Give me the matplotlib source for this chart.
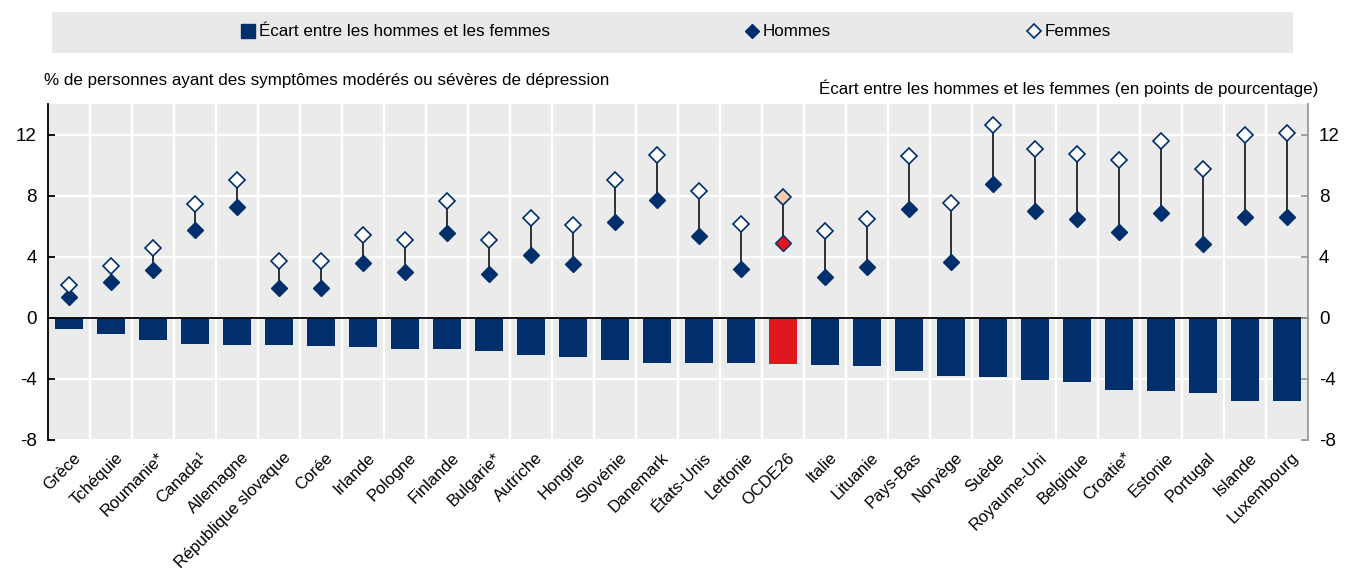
import matplotlib
matplotlib.use("Agg")
import matplotlib.pyplot as plt
from matplotlib import font_manager
from matplotlib.patches import Rectangle
from matplotlib.lines import Line2D
from matplotlib.transforms import ScaledTranslation
import numpy as np

names = {f.name for f in font_manager.fontManager.ttflist}
fam = 'Liberation Sans Narrow' if 'Liberation Sans Narrow' in names else 'Liberation Sans'
plt.rcParams['font.family'] = [fam, 'DejaVu Sans']

countries = ["Grèce", "Tchéquie", "Roumanie*", "Canada¹", "Allemagne", "République slovaque",
             "Corée", "Irlande", "Pologne", "Finlande", "Bulgarie*", "Autriche", "Hongrie",
             "Slovénie", "Danemark", "États-Unis", "Lettonie", "OCDE26", "Italie", "Lituanie",
             "Pays-Bas", "Norvège", "Suède", "Royaume-Uni", "Belgique", "Croatie*", "Estonie",
             "Portugal", "Islande", "Luxembourg"]
femmes = [2.18, 3.42, 4.58, 7.45, 9.0, 3.7, 3.75, 5.45, 5.07, 7.67, 5.07, 6.52, 6.06,
          9.02, 10.67, 8.28, 6.14, 7.89, 5.69, 6.45, 10.6, 7.5, 12.61, 11.05, 10.7, 10.35,
          11.61, 9.74, 12.0, 12.07]
hommes = [1.39, 2.35, 3.12, 5.75, 7.28, 1.94, 1.94, 3.57, 3.03, 5.58, 2.88, 4.12, 3.53,
          6.3, 7.71, 5.34, 3.18, 4.88, 2.64, 3.31, 7.1, 3.66, 8.76, 7.01, 6.47, 5.6,
          6.84, 4.86, 6.58, 6.62]
ecart = [-0.76, -1.07, -1.46, -1.72, -1.76, -1.81, -1.85, -1.9, -2.05, -2.07, -2.2, -2.42,
         -2.55, -2.75, -2.94, -2.96, -2.96, -3.05, -3.07, -3.16, -3.48, -3.83, -3.86, -4.05,
         -4.23, -4.75, -4.82, -4.92, -5.42, -5.44]
highlight = "OCDE26"
yticks = [-8, -4, 0, 4, 8, 12]

NAVY = '#002F6C'
RED = '#E2161F'
PEACH = '#F8CBAD'
BG = '#EBEBEB'

W, H = 1348, 570
fig = plt.figure(figsize=(W / 100, H / 100), dpi=100)
ax = fig.add_axes([48 / W, 1 - 440 / H, (1308 - 48) / W, (440 - 104) / H])
ax.set_facecolor(BG)

n = len(countries)
x = np.arange(n)
bar_colors = [RED if c == highlight else NAVY for c in countries]
ax.bar(x, ecart, width=0.68, color=bar_colors, zorder=3)

for i in range(n):
    ax.plot([x[i], x[i]], [hommes[i], femmes[i]], color='#222222', lw=1.3, zorder=4)
for i, c in enumerate(countries):
    hi = c == highlight
    ax.plot(x[i], hommes[i], marker='D', ms=8.5, mfc=RED if hi else NAVY, mec=NAVY, mew=1.0,
            ls='none', zorder=5)
    ax.plot(x[i], femmes[i], marker='D', ms=8.5, mfc=PEACH if hi else 'white', mec=NAVY, mew=1.2,
            ls='none', zorder=5)

ax.set_xlim(-0.5, n - 0.5)
ax.set_ylim(-8, 14)
ax.set_yticks(yticks)
ax.set_yticklabels([str(t) for t in yticks])
ax.yaxis.grid(True, color='white', lw=1.6, zorder=1)
for b in np.arange(0.5, n - 0.5, 1):
    ax.axvline(b, color='white', lw=1.6, zorder=1)
ax.set_axisbelow(True)

for s in ['top', 'right']:
    ax.spines[s].set_visible(False)
ax.spines['left'].set_color('black')
ax.spines['left'].set_linewidth(1.3)
ax.spines['bottom'].set_position(('data', 0))
ax.spines['bottom'].set_color('black')
ax.spines['bottom'].set_linewidth(1.3)
ax.spines['bottom'].set_zorder(6)
ax.set_xticks(np.arange(0.5, n - 0.5, 1))
ax.set_xticklabels([])
ax.tick_params(axis='x', direction='in', length=5, width=1.3, color='black')
ax.tick_params(axis='y', direction='in', length=5, width=1.3, color='black',
               labelsize=13.5, pad=8)

ax2 = ax.twinx()
ax2.set_ylim(ax.get_ylim())
ax2.set_yticks(yticks)
ax2.set_yticklabels([str(t) for t in yticks])
for s in ['top', 'left', 'bottom']:
    ax2.spines[s].set_visible(False)
ax2.spines['right'].set_color('#999999')
ax2.spines['right'].set_linewidth(1.3)
ax2.tick_params(axis='y', direction='in', length=5, width=1.3, color='#999999',
                labelsize=13.5, pad=8)

offset = ScaledTranslation(4 / 100, -10 / 100, fig.dpi_scale_trans)
for i, c in enumerate(countries):
    ax.text(x[i], -8, c, rotation=45, ha='right', va='top', rotation_mode='anchor',
            fontsize=12, transform=ax.transData + offset, clip_on=False)

# Legend
fig.patches.append(Rectangle((52 / W, 1 - 53 / H), (1293 - 52) / W, 41 / H,
                             transform=fig.transFigure, facecolor='#E9E9E9',
                             edgecolor='none', zorder=0))
handles = [Line2D([], [], marker='s', ms=10, color=NAVY, ls='none'),
           Line2D([], [], marker='D', ms=7, mfc=NAVY, mec=NAVY, ls='none'),
           Line2D([], [], marker='D', ms=7, mfc='white', mec=NAVY, mew=1.2, ls='none')]
labels = ["Écart entre les hommes et les femmes", "Hommes", "Femmes"]
fig.legend(handles, labels, loc='center', bbox_to_anchor=(675 / W, 1 - 32 / H), ncol=3,
           frameon=False, fontsize=12.25, handletextpad=0.15, columnspacing=11.4,
           handlelength=1.0)

fig.text(44 / W, 1 - 80 / H, "% de personnes ayant des symptômes modérés ou sévères de dépression",
         fontsize=12.25, ha='left', va='center')
fig.text(1318 / W, 1 - 88 / H, "Écart entre les hommes et les femmes (en points de pourcentage)",
         fontsize=12.25, ha='right', va='center')

fig.savefig('out.png', dpi=100, facecolor='white')
